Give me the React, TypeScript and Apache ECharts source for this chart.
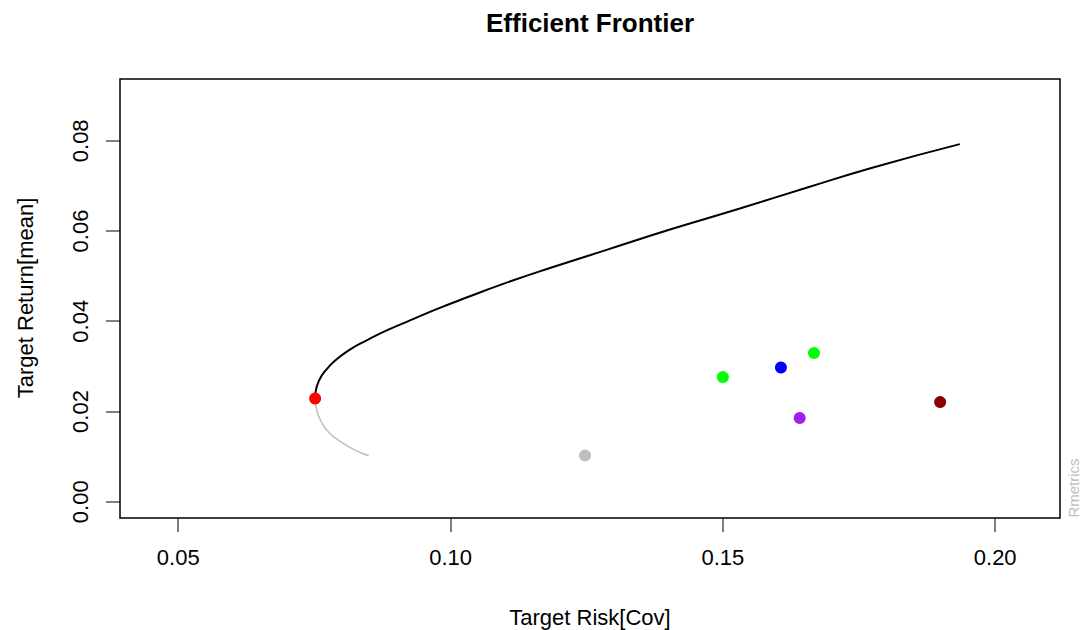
import React, { useEffect, useRef } from "react";
import * as echarts from "echarts";

// Axis ticks
const xTicks = [0.05, 0.1, 0.15, 0.2];
const yTicks = [0.0, 0.02, 0.04, 0.06, 0.08];

// Axis ranges
const xMin = 0.0393;
const xMax = 0.2119;
const yMin = -0.0036;
const yMax = 0.0937;

// Efficient (upper) branch of the frontier: [risk, return]
const efficientFrontier: [number, number][] = [
  [0.07513, 0.02289],
  [0.07518, 0.02409],
  [0.07592, 0.02704],
  [0.07715, 0.02925],
  [0.07899, 0.03147],
  [0.08143, 0.03368],
  [0.0846, 0.03577],
  [0.08827, 0.03798],
  [0.09255, 0.04019],
  [0.09745, 0.0427],
  [0.10356, 0.04555],
  [0.10967, 0.0483],
  [0.11825, 0.0518],
  [0.12865, 0.05583],
  [0.14088, 0.06055],
  [0.15312, 0.065],
  [0.16536, 0.0696],
  [0.17759, 0.0741],
  [0.1935, 0.07927],
];

// Inefficient (lower) branch of the frontier
const inefficientFrontier: [number, number][] = [
  [0.07513, 0.02289],
  [0.07542, 0.02039],
  [0.07623, 0.01779],
  [0.07776, 0.01522],
  [0.0802, 0.01301],
  [0.08296, 0.01115],
  [0.08498, 0.01026],
];

// Minimum variance portfolio
const minVarPoint: [number, number] = [0.07513, 0.02289];

// Single asset points
const assetRisk = [0.12469, 0.15, 0.16066, 0.16673, 0.1641, 0.18989];
const assetReturn = [0.01026, 0.02763, 0.02976, 0.03295, 0.01855, 0.02209];
const assetColors = ["#bebebe", "#00ff00", "#0000ff", "#00ff00", "#a020f0", "#8b0000"];

const FONT = "'Liberation Sans', Arial, Helvetica, sans-serif";
const TICK_LEN = 14;

export default function App() {
  const ref = useRef<HTMLDivElement>(null);

  useEffect(() => {
    if (!ref.current) return;
    const chart = echarts.init(ref.current, undefined, { renderer: "svg" });

    const option: any = {
      animation: false,
      backgroundColor: "#ffffff",
      textStyle: { fontFamily: FONT },
      grid: {
        show: true,
        left: 120,
        top: 79,
        width: 940,
        height: 439,
        borderColor: "#000",
        borderWidth: 1.5,
        backgroundColor: "transparent",
      },
      xAxis: {
        type: "value",
        position: "bottom",
        min: xMin,
        max: xMax,
        splitLine: { show: false },
        axisLine: { show: false, onZero: false },
        axisTick: { show: false },
        axisLabel: {
          customValues: xTicks,
          formatter: (v: number) => v.toFixed(2),
          fontSize: 22,
          color: "#000",
          margin: 28,
          fontFamily: FONT,
        },
      },
      yAxis: {
        type: "value",
        position: "left",
        min: yMin,
        max: yMax,
        splitLine: { show: false },
        axisLine: { show: false, onZero: false },
        axisTick: { show: false },
        axisLabel: {
          customValues: yTicks,
          formatter: (v: number) => v.toFixed(2),
          fontSize: 22,
          color: "#000",
          margin: 29,
          rotate: 90,
          fontFamily: FONT,
        },
      },
      series: [
        {
          type: "custom",
          silent: true,
          clip: false,
          data: xTicks.map((v) => [v, yMin]),
          renderItem: (_params: any, api: any) => {
            const p = api.coord([api.value(0), api.value(1)]);
            return {
              type: "rect",
              shape: { x: Math.round(p[0]) - 0.5, y: p[1], width: 1, height: TICK_LEN },
              style: { fill: "#000" },
            };
          },
          z: 1,
        },
        {
          type: "custom",
          silent: true,
          clip: false,
          data: yTicks.map((v) => [xMin, v]),
          renderItem: (_params: any, api: any) => {
            const p = api.coord([api.value(0), api.value(1)]);
            return {
              type: "rect",
              shape: { x: p[0] - TICK_LEN, y: Math.round(p[1]) - 0.5, width: TICK_LEN, height: 1 },
              style: { fill: "#000" },
            };
          },
          z: 1,
        },
        {
          type: "line",
          data: efficientFrontier,
          showSymbol: false,
          smooth: true,
          lineStyle: { color: "#000", width: 2 },
          z: 2,
        },
        {
          type: "line",
          data: inefficientFrontier,
          showSymbol: false,
          smooth: true,
          lineStyle: { color: "#bebebe", width: 1.5 },
          z: 2,
        },
        {
          type: "scatter",
          data: [minVarPoint],
          symbolSize: 12,
          itemStyle: { color: "#ff0000", opacity: 1 },
          z: 4,
        },
        {
          type: "scatter",
          data: assetRisk.map((r, i) => ({
            value: [r, assetReturn[i]],
            itemStyle: { color: assetColors[i], opacity: 1 },
          })),
          symbolSize: 12,
          itemStyle: { opacity: 1 },
          z: 4,
        },
      ],
      graphic: [
        {
          type: "text",
          x: 590,
          y: 23,
          style: {
            text: "Efficient Frontier",
            fontSize: 26,
            fontWeight: "bold",
            fontFamily: FONT,
            fill: "#000",
            textAlign: "center",
            textVerticalAlign: "middle",
          },
        },
        {
          type: "text",
          x: 590,
          y: 617,
          style: {
            text: "Target Risk[Cov]",
            fontSize: 22,
            fontFamily: FONT,
            fill: "#000",
            textAlign: "center",
            textVerticalAlign: "middle",
          },
        },
        {
          type: "text",
          x: 25,
          y: 298,
          rotation: Math.PI / 2,
          style: {
            text: "Target Return[mean]",
            fontSize: 22,
            fontFamily: FONT,
            fill: "#000",
            textAlign: "center",
            textVerticalAlign: "middle",
          },
        },
        {
          type: "text",
          x: 1073,
          y: 488,
          rotation: Math.PI / 2,
          style: {
            text: "Rmetrics",
            fontSize: 15,
            fontFamily: FONT,
            fill: "#bebebe",
            textAlign: "center",
            textVerticalAlign: "middle",
          },
        },
      ],
    };

    chart.setOption(option);
    return () => chart.dispose();
  }, []);

  return (
    <div
      ref={ref}
      style={{ position: "fixed", left: 0, top: 0, width: 1083, height: 630 }}
    />
  );
}
